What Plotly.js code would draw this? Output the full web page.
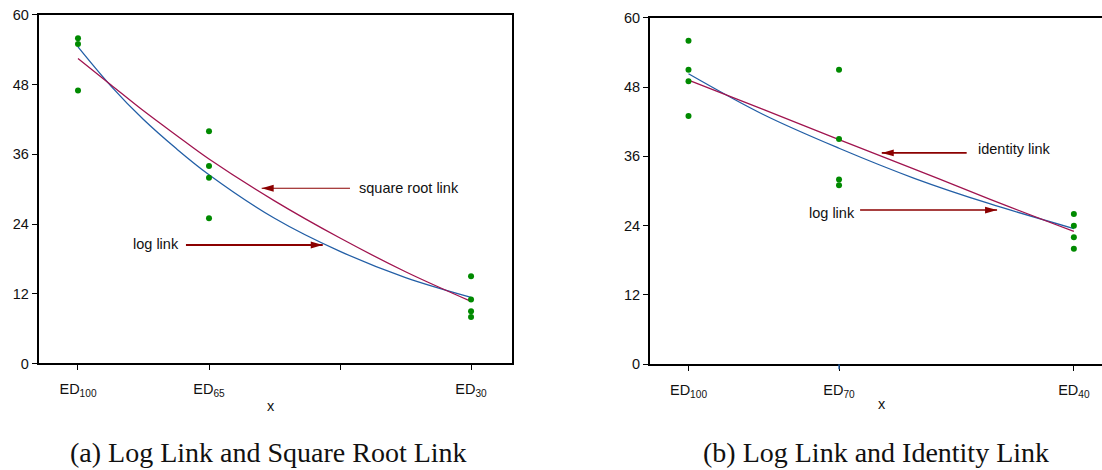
<!DOCTYPE html>
<html>
<head>
<meta charset="utf-8">
<script src="https://cdn.plot.ly/plotly-3.0.1.min.js"></script>
<style>
  html, body { margin: 0; padding: 0; background: #fff; }
  #chart { width: 1102px; height: 470px; }
</style>
</head>
<body>
<div id="chart"></div>
<script>
// ---- Panel (a): log link vs square root link ----
const leftTickVals = [0, 1, 2, 3];
const leftTickText = ['ED<sub>100</sub>', 'ED<sub>65</sub>', '', 'ED<sub>30</sub>'];
const leftDoseX = [0, 1, 3];
const leftObs = [
  [56, 55, 47],
  [40, 34, 32, 25],
  [15, 11, 9, 8]
];
const leftCurveX = [0, 0.25, 0.5, 0.75, 1, 1.5, 2, 2.5, 3];
const leftLogFit = [54.5, 47.8, 42.0, 37.0, 32.5, 25.0, 19.3, 14.8, 11.4];
const leftSqrtFit = [52.5, 48.0, 43.5, 39.3, 35.2, 28.0, 21.6, 15.8, 10.7];

// ---- Panel (b): log link vs identity link ----
const rightTickVals = [0, 1, 2.56];
const rightTickText = ['ED<sub>100</sub>', 'ED<sub>70</sub>', 'ED<sub>40</sub>'];
const rightDoseX = [0, 1, 2.56];
const rightObs = [
  [56, 51, 49, 43],
  [51, 39, 32, 31],
  [26, 24, 22, 20]
];
const rightCurveX = [0, 0.5, 1, 1.5, 2, 2.56];
const rightLogFit = [50.3, 43.2, 37.4, 32.2, 27.8, 23.5];
const rightIdentityFit = [49.2, 44.1, 38.9, 33.8, 28.6, 23.0];

const yTicks = [0, 12, 24, 36, 48, 60];

const BLUE = '#235fa6';
const RED = '#a0144f';
const GREEN = '#008a00';
const ARROW = '#8b0000';
const SANS = 'Liberation Sans, Arial, Helvetica, sans-serif';
const SERIF = 'Liberation Serif, Times New Roman, serif';

function flatten(groupX, groups) {
  const xs = [], ys = [];
  groups.forEach((g, i) => g.forEach(v => { xs.push(groupX[i]); ys.push(v); }));
  return { xs, ys };
}

const lp = flatten(leftDoseX, leftObs);
const rp = flatten(rightDoseX, rightObs);

const traces = [
  { x: leftCurveX, y: leftLogFit, xaxis: 'x', yaxis: 'y', mode: 'lines',
    line: { color: BLUE, width: 1.3, shape: 'spline' }, name: 'log link' },
  { x: leftCurveX, y: leftSqrtFit, xaxis: 'x', yaxis: 'y', mode: 'lines',
    line: { color: RED, width: 1.3, shape: 'spline' }, name: 'square root link' },
  { x: lp.xs, y: lp.ys, xaxis: 'x', yaxis: 'y', mode: 'markers',
    marker: { color: GREEN, size: 6 }, name: 'observed' },
  { x: rightCurveX, y: rightLogFit, xaxis: 'x2', yaxis: 'y2', mode: 'lines',
    line: { color: BLUE, width: 1.3, shape: 'spline' }, name: 'log link' },
  { x: rightCurveX, y: rightIdentityFit, xaxis: 'x2', yaxis: 'y2', mode: 'lines',
    line: { color: RED, width: 1.3, shape: 'spline' }, name: 'identity link' },
  { x: rp.xs, y: rp.ys, xaxis: 'x2', yaxis: 'y2', mode: 'markers',
    marker: { color: GREEN, size: 6 }, name: 'observed' }
];

const axisStyle = {
  showline: true, linewidth: 2, linecolor: '#000',
  ticks: 'outside', ticklen: 5, tickwidth: 1, tickcolor: '#000',
  showgrid: false, zeroline: false, fixedrange: true,
  tickfont: { family: SANS, size: 14.5, color: '#111' }
};

// arrow = shaft line in data coordinates + pixel-sized triangular head
function arrow(xref, yref, tailX, headX, yv, width) {
  const dir = headX > tailX ? -1 : 1;
  const headLen = 12, half = 3.4;
  return [
    { type: 'line', xref, yref, x0: tailX, x1: headX, y0: yv, y1: yv,
      line: { color: ARROW, width } },
    { type: 'path', xref, yref, xsizemode: 'pixel', ysizemode: 'pixel',
      xanchor: headX, yanchor: yv,
      path: `M0,0L${dir * headLen},${half}L${dir * headLen},${-half}Z`,
      fillcolor: ARROW, line: { width: 0 } }
  ];
}

const shapes = [
  ...arrow('x', 'y', 2.076, 1.402, 30.17, 1.2),
  ...arrow('x', 'y', 0.824, 1.868, 20.4, 2),
  ...arrow('x2', 'y2', 1.848, 1.284, 36.6, 1.6),
  ...arrow('x2', 'y2', 1.14, 2.05, 26.7, 1.6),
  { type: 'line', xref: 'x2', yref: 'y2 domain', x0: 1, x1: 1, y0: 0, y1: -0.0144,
    line: { color: BLUE, width: 1.4 } }
];

const labelFont = { family: SANS, size: 14.5, color: '#111' };

const annotations = [
  { xref: 'x', yref: 'y', x: 2.127, y: 30.2, text: 'square root link', showarrow: false,
    xanchor: 'left', yanchor: 'middle', font: labelFont },
  { xref: 'x', yref: 'y', x: 0.405, y: 20.5, text: 'log link', showarrow: false,
    xanchor: 'left', yanchor: 'middle', font: labelFont },
  { xref: 'x2', yref: 'y2', x: 1.908, y: 37.2, text: 'identity link', showarrow: false,
    xanchor: 'left', yanchor: 'middle', font: labelFont },
  { xref: 'x2', yref: 'y2', x: 0.785, y: 26.2, text: 'log link', showarrow: false,
    xanchor: 'left', yanchor: 'middle', font: labelFont },
  { xref: 'paper', yref: 'paper', x: 0.2459, y: 0.136, text: 'x', showarrow: false,
    xanchor: 'center', yanchor: 'middle', font: labelFont },
  { xref: 'paper', yref: 'paper', x: 0.8004, y: 0.140, text: 'x', showarrow: false,
    xanchor: 'center', yanchor: 'middle', font: labelFont },
  { xref: 'paper', yref: 'paper', x: 0.2436, y: 0.038, text: '(a) Log Link and Square Root Link',
    showarrow: false, xanchor: 'center', yanchor: 'middle',
    font: { family: SERIF, size: 28, color: '#111' } },
  { xref: 'paper', yref: 'paper', x: 0.7945, y: 0.038, text: '(b) Log Link and Identity Link',
    showarrow: false, xanchor: 'center', yanchor: 'middle',
    font: { family: SERIF, size: 28, color: '#111' } }
];

const layout = {
  width: 1102, height: 470,
  margin: { l: 0, r: 0, t: 0, b: 0 },
  paper_bgcolor: '#fff', plot_bgcolor: '#fff',
  showlegend: false,
  xaxis: Object.assign({}, axisStyle, {
    domain: [0.0351, 0.4643], range: [-0.30, 3.31], anchor: 'y', mirror: true,
    tickvals: leftTickVals, ticktext: leftTickText, ticklabelstandoff: 6
  }),
  yaxis: Object.assign({}, axisStyle, {
    domain: [0.2266, 0.9681], range: [0, 60], anchor: 'x', mirror: true,
    tickvals: yTicks, ticktext: yTicks.map(String)
  }),
  xaxis2: Object.assign({}, axisStyle, {
    domain: [0.5898, 1], range: [-0.256, 2.747], anchor: 'y2', mirror: true,
    tickvals: rightTickVals, ticktext: rightTickText, ticklabelstandoff: 6
  }),
  yaxis2: Object.assign({}, axisStyle, {
    domain: [0.2249, 0.9623], range: [0, 60], anchor: 'x2', mirror: false,
    tickvals: yTicks, ticktext: yTicks.map(String)
  }),
  shapes, annotations
};

Plotly.newPlot('chart', traces, layout, { staticPlot: true, displayModeBar: false });
</script>
</body>
</html>
